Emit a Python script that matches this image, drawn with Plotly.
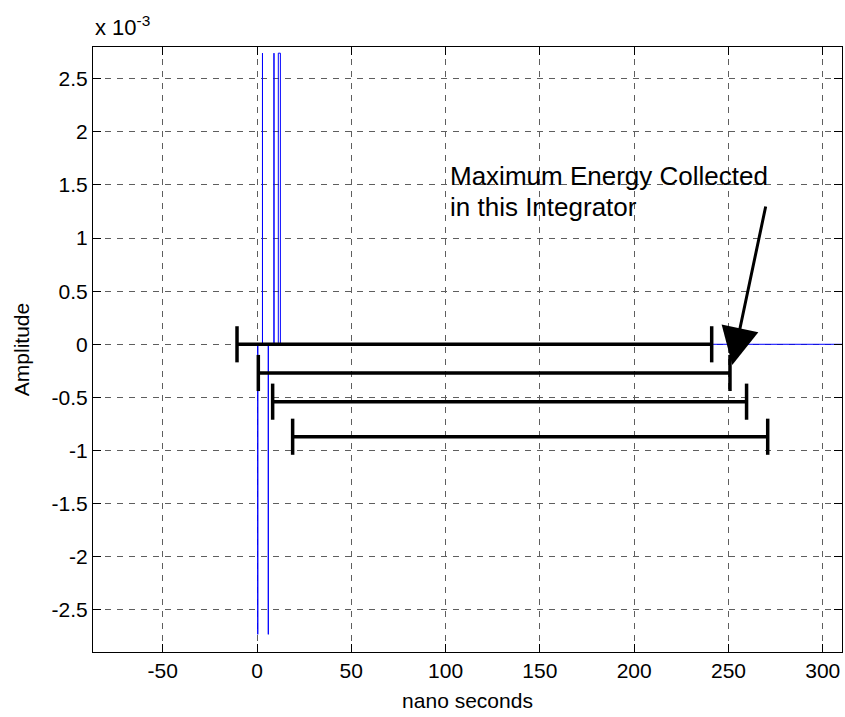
import plotly.graph_objects as go

# Received pulse (amplitude in units of 1e-3) versus time in nanoseconds
t_ns = [0.4, 0.4, 0.4, 2.9, 2.9, 2.9, 6.0, 6.0, 6.0, 9.0, 9.0, 9.0,
        11.3, 11.3, 12.4, 12.4, 310.5]
amp_e3 = [0, -2.73, 0, 0, 2.74, 0, 0, -2.73, 0, 0, 2.74, 0,
          0, 2.74, 2.74, 0, 0]

# Integration windows: start / end time (ns) and the level each is drawn at
win_start = [-10.6, 0.7, 8.3, 18.9]
win_end = [241.1, 250.8, 259.6, 270.8]
win_level = [0.0, -0.27, -0.54, -0.87]

# Axis ticks
x_ticks = [-50, 0, 50, 100, 150, 200, 250, 300]
y_ticks = [2.5, 2, 1.5, 1, 0.5, 0, -0.5, -1, -1.5, -2, -2.5]

FONT = "Liberation Sans, Arial, sans-serif"
CAP = 0.17  # half height of window end caps

bx, by = [], []
for s, e, lv in zip(win_start, win_end, win_level):
    bx += [s, e, None, s, s, None, e, e, None]
    by += [lv, lv, None, lv - CAP, lv + CAP, None, lv - CAP, lv + CAP, None]

fig = go.Figure()
fig.add_trace(go.Scatter(x=t_ns, y=amp_e3, mode="lines",
                         line=dict(color="#0000ff", width=1),
                         hoverinfo="skip", showlegend=False))
fig.add_trace(go.Scatter(x=bx, y=by, mode="lines",
                         line=dict(color="black", width=3.5),
                         hoverinfo="skip", showlegend=False))

axis_common = dict(
    showgrid=True, gridcolor="#5e5e5e", gridwidth=1, griddash="6px,6px",
    zeroline=False, showline=True, linecolor="black", linewidth=1,
    mirror="ticks", ticks="inside", ticklen=8, tickcolor="black",
    tickfont=dict(family=FONT, size=21, color="black"),
)

fig.update_xaxes(range=[-86.96, 310.2], tickvals=x_ticks,
                 ticktext=[str(v) for v in x_ticks],
                 title=dict(text="nano seconds", standoff=12,
                            font=dict(family=FONT, size=21, color="black")),
                 **axis_common)
fig.update_yaxes(range=[-2.896, 2.798], tickvals=y_ticks,
                 ticktext=[f"{v:g}" for v in y_ticks],
                 title=dict(text="Amplitude", standoff=16,
                            font=dict(family=FONT, size=21, color="black")),
                 **axis_common)

fig.add_annotation(x=0, y=1, xref="paper", yref="paper", xanchor="left",
                   yanchor="bottom", yshift=5, showarrow=False,
                   text="x 10<sup>-3</sup>",
                   font=dict(family=FONT, size=22, color="black"))

fig.add_annotation(x=101.5, y=1.584, xref="x", yref="y", xanchor="left",
                   yanchor="middle", showarrow=False,
                   text="Maximum Energy Collected",
                   font=dict(family=FONT, size=26, color="black"))
fig.add_annotation(x=101.5, y=1.292, xref="x", yref="y", xanchor="left",
                   yanchor="middle", showarrow=False,
                   text="in this Integrator",
                   font=dict(family=FONT, size=26, color="black"))

fig.add_annotation(x=252.0, y=-0.195, ax=269.9, ay=1.311,
                   xref="x", yref="y", axref="x", ayref="y",
                   text="", showarrow=True, arrowhead=2, arrowsize=2.5,
                   arrowwidth=3, arrowcolor="black", standoff=0)

fig.update_layout(width=845, height=717,
                  margin=dict(l=93, r=3, t=47, b=65),
                  paper_bgcolor="white", plot_bgcolor="white",
                  font=dict(family=FONT, color="black"))

fig.write_html("out.html")
